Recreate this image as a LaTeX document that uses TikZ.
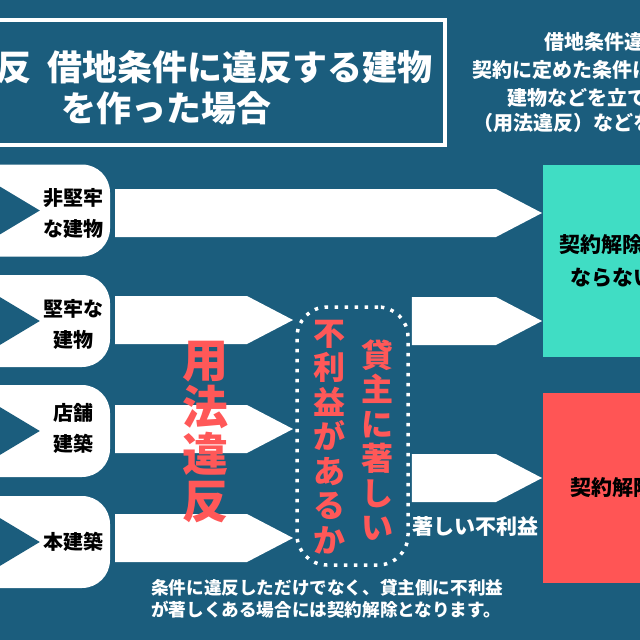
\documentclass[tikz,border=0pt]{standalone}
\usepackage{fontspec}
\newfontfamily\jp{Noto Sans CJK JP}
\usetikzlibrary{positioning,calc}
\definecolor{deepblue}{RGB}{27,93,125}
\definecolor{mint}{RGB}{64,221,196}
\definecolor{alarm}{RGB}{255,85,85}
\definecolor{redtext}{RGB}{255,88,88}
\tikzset{%
    leftbox/.style={fill=white, rounded corners=28pt, minimum width=150pt,
        minimum height=92pt, inner sep=0pt},
    boxlabel/.style={font=\jp\bfseries\fontsize{20}{31}\selectfont, align=center, inner sep=0pt},
    whitetext/.style={white, font=\jp\bfseries\fontsize{#1}{#1}\selectfont, inner sep=0pt},
    resultbox/.style={fill=#1, minimum width=138pt, inner sep=0pt, align=center,
        font=\jp\bfseries\fontsize{21}{33}\selectfont}
}
% block arrow from a start point to a tip
\newcommand{\blockarrow}[2]{%
    \fill[white] let \p1=#1, \p2=#2 in
        (\x1,\y2+24pt) -- (\x2-46pt,\y2+24pt) -- (\x2,\y2)
        -- (\x2-46pt,\y2-24pt) -- (\x1,\y2-24pt) -- cycle;}

\begin{document}
\begin{tikzpicture}[x=1pt,y=-1pt]
    \useasboundingbox (0,0) rectangle (640,640);
    \clip (0,0) rectangle (640,640);
    \fill[deepblue] (0,0) rectangle (640,640);
    % title
    \draw[white, line width=4pt] (-10,20) rectangle (445,145);
    \node[whitetext=35, anchor=east] (title1) at (433,67) {反\hspace{16pt}借地条件に違反する建物};
    \node[whitetext=35, anchor=west] (title2) at (61,108) {を作った場合};
    % explanation, top right
    \node[whitetext=20, anchor=west] (info1) at (544,42) {借地条件違};
    \node[whitetext=20, anchor=west] (info2) at (472,70) {契約に定めた条件に};
    \node[whitetext=20, anchor=west] (info3) at (507,98) {建物などを立て};
    \node[whitetext=20, anchor=west] (info4) at (473,123) {（用法違反）などを};
    % buildings
    \node[leftbox] (b1) at (35,210.5) {};
    \node[leftbox] (b2) at (35,321) {};
    \node[leftbox] (b3) at (35,431) {};
    \node[leftbox] (b4) at (35,542) {};
    \foreach \b in {b1,b2,b3,b4}
        \fill[deepblue] ([xshift=20pt,yshift=36pt]\b.west) -- ([xshift=80pt]\b.west)
            -- ([xshift=20pt,yshift=-36pt]\b.west) -- cycle;
    \node[boxlabel] (l1) at ([xshift=-37pt,yshift=-3pt]b1.east) {非堅牢\\な建物};
    \node[boxlabel] (l2) at ([xshift=-37pt,yshift=-3pt]b2.east) {堅牢な\\建物};
    \node[boxlabel] (l3) at ([xshift=-37pt,yshift=3pt]b3.east) {店舗\\建築};
    \node[boxlabel] (l4) at ([xshift=-37pt]b4.east) {本建築};
    % question
    \node[draw=white, line width=3.5pt, dash pattern=on 3.5pt off 6.5pt,
        rounded corners=30pt, minimum width=111pt, minimum height=258pt] (cond) at (352.5,436) {};
    \node[redtext, font=\jp\bfseries\fontsize{32}{34.5}\selectfont, align=center, inner sep=0pt]
        (q1) at (329,437) {不\\利\\益\\が\\あ\\る\\か};
    \node[redtext, font=\jp\bfseries\fontsize{32}{34.5}\selectfont, align=center, inner sep=0pt]
        (q2) at (377,440) {貸\\主\\に\\著\\し\\い};
    % results
    \node[resultbox=mint, minimum height=192pt] (ok) at (612,261) {契約解除に\\ならない};
    \node[resultbox=alarm, minimum height=190pt] (ng) at (612,488) {契約解除};
    % arrows
    \coordinate (t1) at (542,213);
    \coordinate (t2) at (293,320);
    \coordinate (t3) at (293,429);
    \coordinate (t4) at (293,538);
    \coordinate (t5) at (542,321);
    \coordinate (t6) at (542,478);
    \blockarrow{([xshift=5pt]b1.east)}{(t1)}
    \blockarrow{([xshift=5pt]b2.east)}{(t2)}
    \blockarrow{([xshift=5pt]b3.east)}{(t3)}
    \blockarrow{([xshift=5pt]b4.east)}{(t4)}
    \blockarrow{([xshift=2pt]cond.east)}{(t5)}
    \blockarrow{([xshift=2pt]cond.east)}{(t6)}
    \node[redtext, font=\jp\bfseries\fontsize{46}{47}\selectfont, align=center, inner sep=0pt]
        (use) at (205,432) {用\\法\\違\\反};
    \node[whitetext=21] (bad) at (475,527) {著しい不利益};
    % note
    \node[white, font=\jp\bfseries\fontsize{17.6}{22}\selectfont, align=left, inner sep=0pt,
        anchor=west] (note) at (151,599) {条件に違反しただけでなく、貸主側に不利益\\が著しくある場合には契約解除となります。};
\end{tikzpicture}
\end{document}
